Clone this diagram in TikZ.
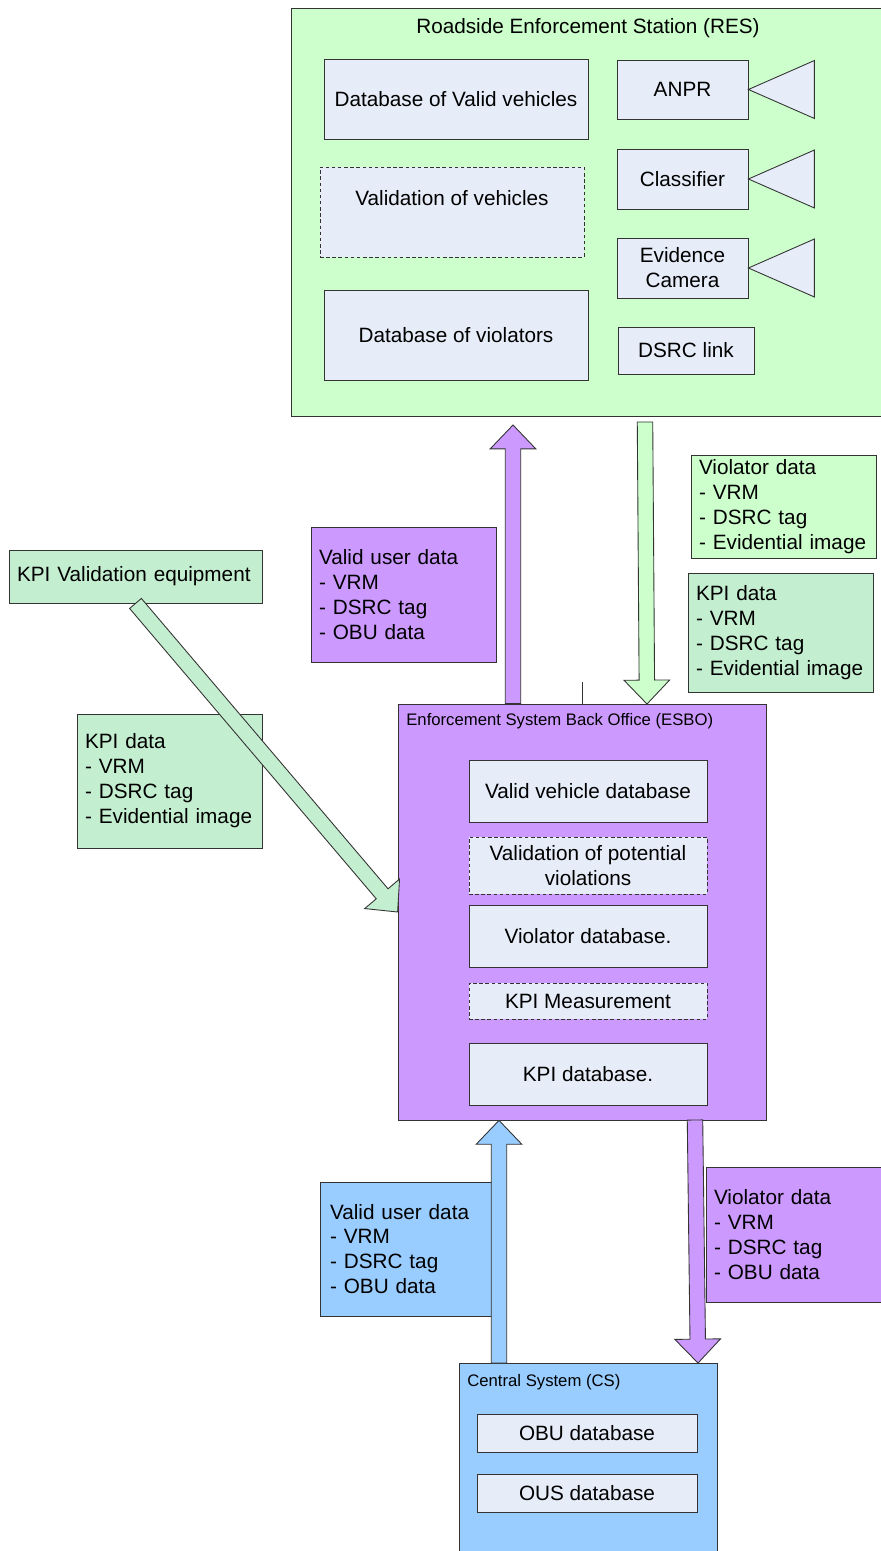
\documentclass[tikz,border=0pt]{standalone}
\usepackage{fontspec}
\setmainfont{Liberation Sans}
\usepackage{tikz}
\usetikzlibrary{calc}

\definecolor{resgreen}{HTML}{CCFFCC}
\definecolor{kpigreen}{HTML}{C4EED0}
\definecolor{esbopurple}{HTML}{CC99FF}
\definecolor{csblue}{HTML}{99CCFF}
\definecolor{dbgrey}{HTML}{E6ECF8}
\definecolor{lineclr}{HTML}{333333}

% block arrow from #2 to #3 (tip), style #1
\newcommand{\blockarrow}[3]{%
  \coordinate (bh) at ($(#3)!13.6pt!(#2)$);
  \draw[#1] ($(#2)!4.4pt!90:(#3)$) -- ($(bh)!4.4pt!90:(#3)$) -- ($(bh)!13pt!90:(#3)$) -- (#3)
    -- ($(bh)!13pt!-90:(#3)$) -- ($(bh)!4.4pt!-90:(#3)$) -- ($(#2)!4.4pt!-90:(#3)$) -- cycle;}

\begin{document}
\begin{tikzpicture}[x=0.02cm, y=-0.02cm]
		\tikzstyle{every node}=[font=\fontsize{11.8}{14.2}\selectfont]
		\tikzstyle{box}=[draw=lineclr, line width=0.5pt, rectangle, inner sep=0pt]
		\tikzstyle{dbbox}=[box, fill=dbgrey]
		\tikzstyle{procbox}=[dbbox, dash pattern=on 2pt off 1.5pt]
		\tikzstyle{listbox}=[box, align=left, inner xsep=0.16cm, execute at begin node={\hyphenpenalty=10000}]
		\tikzstyle{titlefont}=[font=\fontsize{9.5}{11}\selectfont, inner sep=0pt, anchor=west]
		\tikzstyle{fatarrow}=[draw=lineclr, line width=0.5pt, line join=miter]

		\useasboundingbox (0,0) rectangle (880,1551);

		% Roadside Enforcement Station
		\node[box, fill=resgreen, minimum width=11.82cm, minimum height=8.16cm] (res) at (586.5,212) {};
		\node (restitle) at (588,28) {Roadside Enforcement Station (RES)};
		\node[dbbox, minimum width=5.28cm, minimum height=1.6cm] (dbvalid) at (456,99) {Database of Valid vehicles};
		\node[procbox, minimum width=5.28cm, minimum height=1.8cm] (valveh) at (452,212) {};
		\node (valvehtext) at (452,198) {Validation of vehicles};
		\node[dbbox, minimum width=5.28cm, minimum height=1.8cm] (dbviol) at (456,335) {Database of violators};
		\node[dbbox, minimum width=2.62cm, minimum height=1.18cm] (anpr) at (682.5,89.5) {ANPR};
		\node[dbbox, minimum width=2.62cm, minimum height=1.2cm] (classif) at (682.5,179) {Classifier};
		\node[dbbox, align=center, minimum width=2.62cm, minimum height=1.2cm] (evcam) at (682.5,268) {Evidence\\Camera};
		\node[dbbox, minimum width=2.72cm, minimum height=0.94cm] (dsrc) at (686,350.5) {DSRC link};
		\foreach \s in {anpr,classif,evcam}
			\draw[draw=lineclr, line width=0.5pt, fill=dbgrey] (\s.east) -- ++(66,-29) -- ++(0,58) -- cycle;

		% Enforcement System Back Office
		\node[box, fill=esbopurple, minimum width=7.36cm, minimum height=8.32cm] (esbo) at (582,912) {};
		\node[titlefont] (esbotitle) at (406,721) {Enforcement System Back Office (ESBO)};
		\node[dbbox, minimum width=4.76cm, minimum height=1.24cm] (vvdb) at (588,791) {Valid vehicle database};
		\node[procbox, align=center, minimum width=4.76cm, minimum height=1.14cm] (valpot) at (588,865.5) {Validation of potential\\violations};
		\node[dbbox, minimum width=4.76cm, minimum height=1.24cm] (violdb) at (588,936) {Violator database.};
		\node[procbox, minimum width=4.76cm, minimum height=0.72cm] (kpimeas) at (588,1001) {KPI Measurement};
		\node[dbbox, minimum width=4.76cm, minimum height=1.24cm] (kpidb) at (588,1074) {KPI database.};

		% Central System
		\node[box, fill=csblue, minimum width=5.16cm, minimum height=3.94cm] (cs) at (588,1461.5) {};
		\node[titlefont] (cstitle) at (467,1382) {Central System (CS)};
		\node[dbbox, minimum width=4.4cm, minimum height=0.76cm] (obudb) at (587,1433) {OBU database};
		\node[dbbox, minimum width=4.4cm, minimum height=0.76cm] (ousdb) at (587,1493) {OUS database};

		% data labels
		\node[listbox, fill=esbopurple, text width=3.38cm, minimum height=2.7cm] (validA) at (403.5,594.5) {Valid user data\\- VRM\\- DSRC tag\\- OBU data};
		\node[listbox, fill=resgreen, text width=3.38cm, minimum height=2.06cm] (violG) at (783.5,506.5) {Violator data\\- VRM\\- DSRC tag\\- Evidential image};
		\node[listbox, fill=kpigreen, text width=3.38cm, minimum height=2.38cm] (kpiR) at (780.5,632.5) {KPI data\\- VRM\\- DSRC tag\\- Evidential image};
		\node[listbox, fill=kpigreen, text width=4.74cm, minimum height=1.06cm] (kpiequip) at (135.5,576.5) {KPI Validation equipment};
		\node[listbox, fill=kpigreen, text width=3.38cm, minimum height=2.68cm] (kpiL) at (169.5,781) {KPI data\\- VRM\\- DSRC tag\\- Evidential image};
		\node[listbox, fill=csblue, inner xsep=0.2cm, text width=3.04cm, minimum height=2.68cm] (validB) at (406,1249) {Valid user data\\- VRM\\- DSRC tag\\- OBU data};
		\node[listbox, fill=esbopurple, text width=3.2cm, minimum height=2.7cm] (violP) at (794,1234.5) {Violator data\\- VRM\\- DSRC tag\\- OBU data};

		% data flows
		\coordinate (resin) at (513,425);
		\coordinate (esboout) at (esbo.north -| resin);
		\coordinate (resout) at (645,422);
		\coordinate (esboin) at (647,704);
		\coordinate (csout) at (499,1363);
		\coordinate (esbobin) at (esbo.south -| csout);
		\coordinate (esbobout) at (695,1120);
		\coordinate (csin) at (698,1363);
		\blockarrow{fatarrow, fill=esbopurple}{esboout}{resin}
		\blockarrow{fatarrow, fill=resgreen}{resout}{esboin}
		\blockarrow{fatarrow, fill=kpigreen}{kpiequip.south}{esbo.west}
		\blockarrow{fatarrow, fill=csblue}{csout}{esbobin}
		\blockarrow{fatarrow, fill=esbopurple}{esbobout}{csin}
		\draw[lineclr, line width=0.5pt] (esbo.north) -- ++(0,-22);

	\end{tikzpicture}
\end{document}
